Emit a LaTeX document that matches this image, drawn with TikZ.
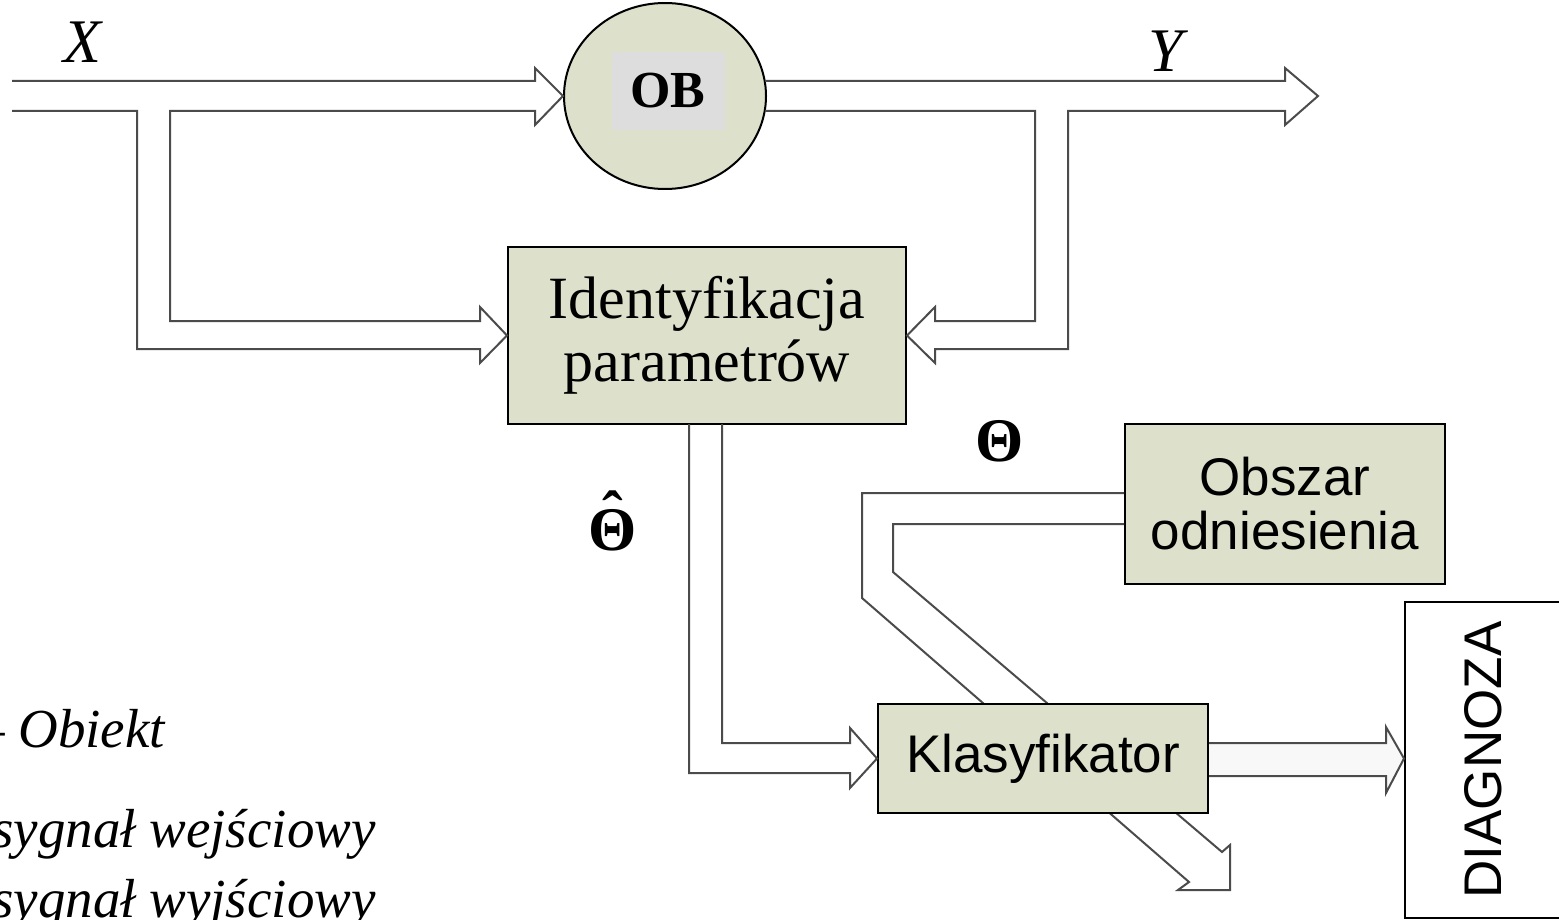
\documentclass[tikz,border=0pt]{standalone}
\usepackage{fontspec}
\setmainfont{Liberation Serif}
\setsansfont{Liberation Sans}
\usepackage{graphicx}
\usetikzlibrary{shapes.geometric,calc}
\definecolor{boxfill}{RGB}{221,225,203}
\definecolor{obgray}{RGB}{221,221,221}
\definecolor{wire}{RGB}{75,75,75}
\definecolor{bandfill}{RGB}{248,248,248}

\tikzset{
  block/.style={draw=black, line width=2pt, fill=boxfill, inner sep=0pt, align=center},
  band/.style={draw=wire, line width=2pt, line join=miter},
  sanslbl/.style={font=\sffamily\fontsize{53}{54}\selectfont},
  seriflbl/.style={font=\fontsize{60}{63}\selectfont},
  legend/.style={font=\itshape\fontsize{55}{60}\selectfont, inner sep=0pt, anchor=base west},
  siglbl/.style={font=\itshape\fontsize{62}{62}\selectfont, inner sep=0pt},
  thlbl/.style={font=\bfseries\fontsize{62}{62}\selectfont, inner sep=0pt, align=center},
}

\begin{document}
\begin{tikzpicture}[x=1pt,y=-1pt]
\useasboundingbox (0,0) rectangle (1559,920);
\clip (0,0) rectangle (1559,920);

% object and identification
\node[block, ellipse, minimum width=202pt, minimum height=186pt] (ob) at (665,96) {};
\node[fill=obgray, minimum width=113pt, minimum height=78pt, inner sep=0pt,
      font=\bfseries\fontsize{52}{52}\selectfont] (obtxt) at (668,91) {OB};
\node[block, minimum width=398pt, minimum height=177pt, seriflbl] (ident) at (707,335.5) {Identyfikacja\\parametrów};
\node[block, minimum width=320pt, minimum height=160pt, sanslbl] (obs) at (1285,504) {Obszar\\odniesienia};

% signal labels
\node[siglbl] (xlbl) at (82,42) {X};
\node[siglbl] (ylbl) at (1166,51) {Y};
\node[thlbl] (thref) at (1000,441) {Θ};
\node[thlbl] (thest) at (613,521) {ˆ\\[-46pt]Θ};

% input X: to object and to identification
\draw[band] (12,81) -- (535,81) -- (535,68) -- (ob.west) -- (535,125) -- (535,111)
  -- (170,111) -- (170,321) -- (480,321) -- (480,307) -- (ident.west) -- (480,363)
  -- (480,349) -- (137,349) -- (137,111) -- (12,111);

% output Y: out and back to identification
\coordinate (yout) at (1318,96);
\draw[band] (765,81) -- (1285,81) -- (1285,68) -- (yout) -- (1285,125) -- (1285,111)
  -- (1068,111) -- (1068,349) -- (935,349) -- (935,363) -- (ident.east) -- (935,307)
  -- (935,321) -- (1035,321) -- (1035,111) -- (765,111);

% reference region, passing under the classifier
\draw[band] ([yshift=11pt]obs.west) -- (862,493) -- (862,598) -- (1189,882) -- (1178,890)
  -- (1230,890) -- (1230,845) -- (1222,852) -- (893,572) -- (893,524) -- ([yshift=-20pt]obs.west);

\node[block, minimum width=330pt, minimum height=109pt, sanslbl] (klas) at (1043,758.5) {Klasyfikator};
\node[draw=black, line width=2pt, minimum width=156pt, minimum height=316pt, inner sep=0pt,
      sanslbl] (diag) at (1483,760) {\rotatebox{90}{DIAGNOZA}};

% estimated parameters to classifier
\draw[band] (689,424) -- (689,773) -- (850,773) -- (850,788) -- (klas.west) -- (850,728)
  -- (850,743) -- (722,743) -- (722,424);

% classifier to diagnosis
\draw[band, fill=bandfill] ([yshift=15.5pt]klas.east) -- (1386,743) -- (1386,727)
  -- (diag.west |- klas.east) -- (1386,793) -- (1386,776) -- ([yshift=-17.5pt]klas.east);

% legend
\node[legend] (lob) at (-23,747) {– Obiekt};
\node[legend] (lin) at (-8,847) {sygnał wejściowy};
\node[legend] (lout) at (-8,917) {sygnał wyjściowy};
\end{tikzpicture}
\end{document}
